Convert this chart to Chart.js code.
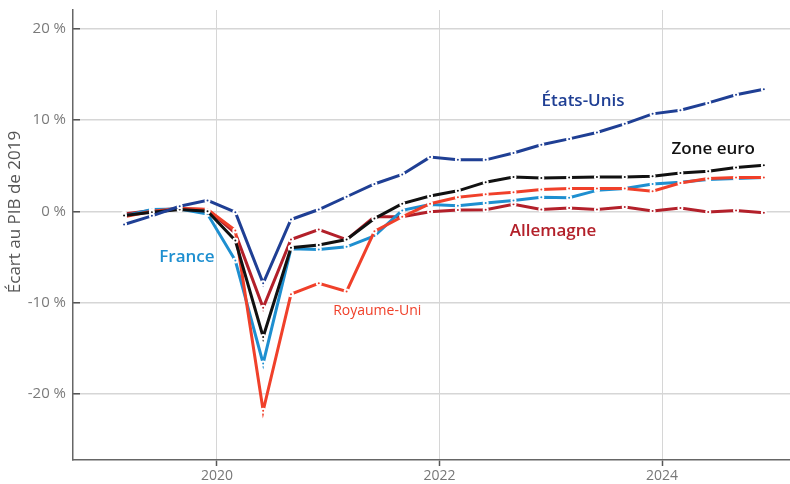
<!DOCTYPE html>
<html>
<head>
<meta charset="utf-8">
<title>Écart au PIB de 2019</title>
<script src="https://cdn.jsdelivr.net/npm/chart.js"></script>
<style>
  html, body { margin: 0; padding: 0; background: #fff; }
</style>
</head>
<body>
<canvas id="c" width="790" height="484"></canvas>
<script>
// trimestres (points placés un peu après le début du trimestre)
const trimestres = ['2019T1','2019T2','2019T3','2019T4','2020T1','2020T2','2020T3','2020T4',
                    '2021T1','2021T2','2021T3','2021T4','2022T1','2022T2','2022T3','2022T4',
                    '2023T1','2023T2','2023T3','2023T4','2024T1','2024T2','2024T3','2024T4'];

const etatsUnis  = [-1.45, -0.5, 0.55, 1.2, -0.1, -7.9, -0.9, 0.2, 1.6, 3.0, 4.05, 5.95,
                    5.65, 5.65, 6.4, 7.3, 7.95, 8.65, 9.6, 10.7, 11.1, 11.9, 12.8, 13.4];
const zoneEuro   = [-0.45, -0.1, 0.2, 0.0, -3.2, -13.8, -4.0, -3.7, -3.1, -0.8, 0.84, 1.68,
                    2.25, 3.2, 3.76, 3.65, 3.7, 3.76, 3.76, 3.85, 4.2, 4.4, 4.8, 5.05];
const royaumeUni = [-0.6, 0.0, 0.3, 0.2, -2.1, -21.9, -9.1, -7.9, -8.8, -2.2, -0.6, 0.84,
                    1.55, 1.86, 2.1, 2.4, 2.5, 2.5, 2.5, 2.2, 3.1, 3.6, 3.7, 3.7];
const france     = [-0.5, 0.2, 0.25, -0.3, -5.4, -16.7, -4.1, -4.2, -3.9, -2.7, 0.1, 0.75,
                    0.6, 0.9, 1.2, 1.55, 1.5, 2.3, 2.5, 3.0, 3.2, 3.5, 3.6, 3.7];
const allemagne  = [-0.3, 0.1, 0.3, 0.2, -2.4, -10.6, -3.1, -2.0, -3.1, -0.6, -0.6, -0.05,
                    0.15, 0.18, 0.77, 0.2, 0.37, 0.2, 0.47, 0.04, 0.37, -0.07, 0.1, -0.15];

const xTicks = [2020, 2022, 2024];
const yTicks = [-20, -10, 0, 10, 20];

const FONT = "'Open Sans', 'Noto Sans', sans-serif";

function toX(t) {
    const an = parseInt(t.slice(0, 4));
    const q = parseInt(t.slice(5));
    return an + (q - 1) * 0.25 + 0.165;
}

function serie(valeurs) {
    return valeurs.map((v, i) => ({ x: toX(trimestres[i]), y: v }));
}

function ds(label, valeurs, couleur) {
    return {
        label: label,
        data: serie(valeurs),
        borderColor: couleur,
        backgroundColor: couleur,
        borderWidth: 3,
        pointRadius: 2,
        pointBorderWidth: 2,
        pointBorderColor: '#fff',
        pointBackgroundColor: couleur,
        pointHoverRadius: 2,
        tension: 0,
        fill: false
    };
}

const etiquettes = [
    { texte: 'États-Unis',  x: 2023.29, y: 12.05, couleur: '#1f3f94', poids: 600, taille: 17 },
    { texte: 'Zone euro',   x: 2024.46, y: 6.8,   couleur: '#111111', poids: 600, taille: 17 },
    { texte: 'Allemagne',   x: 2023.02, y: -2.2,  couleur: '#b3202a', poids: 600, taille: 17 },
    { texte: 'France',      x: 2019.73, y: -5.04, couleur: '#1e8fd0', poids: 600, taille: 17 },
    { texte: 'Royaume-Uni', x: 2021.44, y: -10.95, couleur: '#f0402a', poids: 400, taille: 14 }
];

const pluginEtiquettes = {
    id: 'etiquettes',
    afterDatasetsDraw(chart) {
        const ctx = chart.ctx;
        const sx = chart.scales.x, sy = chart.scales.y;
        ctx.save();
        ctx.textAlign = 'center';
        ctx.textBaseline = 'middle';
        etiquettes.forEach(e => {
            ctx.font = `${e.poids} ${e.taille}px ${FONT}`;
            ctx.fillStyle = e.couleur;
            ctx.fillText(e.texte, sx.getPixelForValue(e.x), sy.getPixelForValue(e.y));
        });
        // titre de l'axe vertical
        ctx.translate(15, 212);
        ctx.rotate(-Math.PI / 2);
        ctx.font = `400 17px ${FONT}`;
        ctx.fillStyle = '#555';
        ctx.fillText('Écart au PIB de 2019', 0, 0);
        ctx.restore();
    }
};

new Chart(document.getElementById('c'), {
    type: 'line',
    data: {
        datasets: [
            ds('États-Unis', etatsUnis, '#1f3f94'),
            ds('Zone euro', zoneEuro, '#111111'),
            ds('Royaume-Uni', royaumeUni, '#f0402a'),
            ds('France', france, '#1e8fd0'),
            ds('Allemagne', allemagne, '#b3202a')
        ]
    },
    options: {
        responsive: false,
        devicePixelRatio: 1,
        animation: false,
        layout: { autoPadding: false, padding: { top: 10, right: 0, left: 0, bottom: 0 } },
        plugins: { legend: { display: false }, tooltip: { enabled: false } },
        scales: {
            x: {
                type: 'linear',
                min: 2018.706,
                max: 2025.15,
                afterBuildTicks: s => { s.ticks = xTicks.map(v => ({ value: v })); },
                afterFit: s => { s.height = 24; s.paddingLeft = 0; s.paddingRight = 0; },
                ticks: {
                    callback: v => String(v),
                    color: '#777',
                    font: { family: FONT, size: 14 },
                    padding: 2,
                    maxRotation: 0,
                    autoSkip: false
                },
                grid: { color: '#d6d6d6', lineWidth: 1, tickLength: 6, tickColor: '#555', tickWidth: 1.5 },
                border: { color: '#666', width: 1.5 }
            },
            y: {
                min: -27.3,
                max: 22.1,
                afterBuildTicks: s => { s.ticks = yTicks.map(v => ({ value: v })); },
                afterFit: s => { s.width = 73; s.paddingTop = 0; s.paddingBottom = 0; },
                ticks: {
                    callback: v => v + ' %',
                    color: '#7a7a7a',
                    font: { family: FONT, size: 15 },
                    padding: 14
                },
                grid: { color: '#d6d6d6', lineWidth: 1.5, tickLength: -7, tickColor: '#555', tickWidth: 1.5 },
                border: { color: '#666', width: 1.5 }
            }
        }
    },
    plugins: [pluginEtiquettes]
});
</script>
</body>
</html>
